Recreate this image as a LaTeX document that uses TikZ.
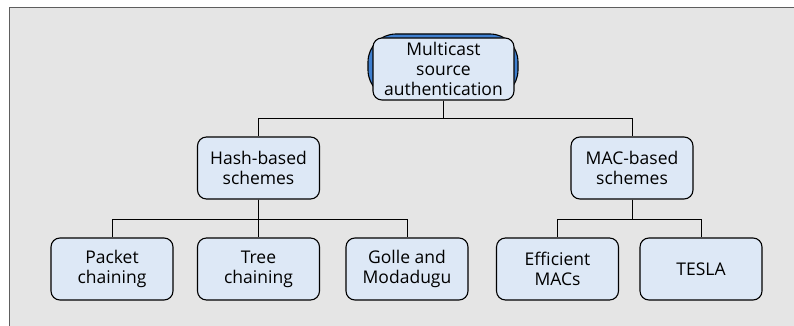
\documentclass[tikz,border=0pt]{standalone}
\usepackage{fontspec}
\setmainfont{Open Sans}
\definecolor{panelgray}{HTML}{E5E5E5}
\definecolor{framegray}{HTML}{5E5E5E}
\definecolor{boxfill}{HTML}{DDE8F6}
\definecolor{rootblue}{HTML}{3F7FCF}
\tikzset{
  treebox/.style={draw=black, line width=1.1pt, fill=boxfill, rounded corners=9pt,
    minimum width=122pt, minimum height=62pt, inner sep=0pt, align=center,
    font=\fontsize{17.5}{20}\selectfont},
  link/.style={draw=black, line width=1pt}
}
\begin{document}
\begin{tikzpicture}[x=1pt, y=-1pt]
  \useasboundingbox (0,0) rectangle (794,326);
  % panel with its top and left rule
  \fill[white] (0,0) rectangle (794,326);
  \fill[panelgray] (9,7) rectangle (794,326);
  \draw[framegray, line width=1.8pt] (9.5,326) -- (9.5,7.5) -- (794,7.5);

  % blue halo behind the root
  \draw[fill=rootblue, line width=1.1pt, rounded corners=28pt] (368,34) rectangle (518,98);

  \node[treebox, minimum width=141pt] (root) at (443.5,69) {Multicast\\source\\authentication};

  \node[treebox] (hash) at (258.5,168) {Hash-based\\schemes};
  \node[treebox] (mac)  at (632,168)   {MAC-based\\schemes};

  \node[treebox] (packet) at (112,269)   {Packet\\chaining};
  \node[treebox] (tree)   at (258.5,269) {Tree\\chaining};
  \node[treebox] (golle)  at (407,269)   {Golle and\\Modadugu};
  \node[treebox] (eff)    at (557.5,269) {Efficient\\MACs};
  \node[treebox] (tesla)  at (701,269)   {TESLA};

  % connectors
  \draw[link] (root.south) -- ++(0,18) -| (hash.north);
  \draw[link] (root.south) -- ++(0,18) -| (mac.north);
  \draw[link] (hash.south) -- ++(0,19.5) -| (packet.north);
  \draw[link] (hash.south) -- (tree.north);
  \draw[link] (hash.south) -- ++(0,19.5) -| (golle.north);
  \draw[link] (mac.south) -- ++(0,19.5) -| (eff.north);
  \draw[link] (mac.south) -- ++(0,19.5) -| (tesla.north);
\end{tikzpicture}
\end{document}
